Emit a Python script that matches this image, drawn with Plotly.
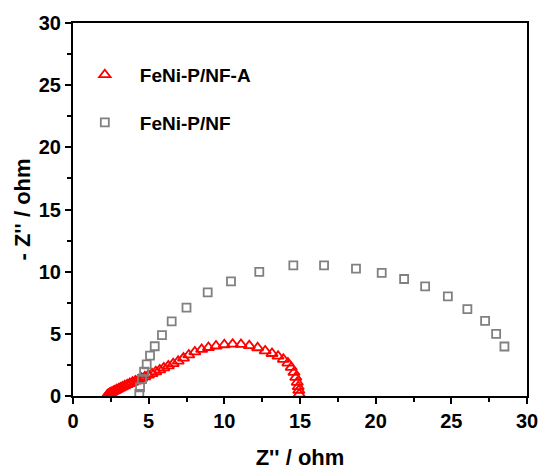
import plotly.graph_objects as go

# FeNi-P/NF-A (red triangles)
a_x = [2.25, 2.3, 2.35, 2.42, 2.5, 2.58, 2.67, 2.77, 2.88, 3.0, 3.13, 3.27, 3.42, 3.58, 3.75,
       3.93, 4.12, 4.32, 4.53, 4.75, 4.98, 5.22, 5.47, 5.73, 6.0, 6.3, 6.62, 6.95, 7.3, 7.65,
       8.05, 8.5, 8.95, 9.45, 10.0, 10.55, 11.1, 11.65, 12.2, 12.7, 13.15, 13.55, 13.9, 14.2,
       14.42, 14.6, 14.72, 14.82, 14.88, 14.92, 14.95]
a_y = [0.05, 0.1, 0.15, 0.2, 0.26, 0.31, 0.37, 0.43, 0.5, 0.57, 0.65, 0.73, 0.82, 0.91, 1.0,
       1.1, 1.2, 1.31, 1.42, 1.54, 1.68, 1.8, 1.95, 2.1, 2.26, 2.42, 2.6, 2.8, 3.05, 3.3,
       3.55, 3.75, 3.9, 4.02, 4.12, 4.17, 4.15, 4.05, 3.88, 3.63, 3.42, 3.2, 2.95, 2.65,
       2.3, 1.9, 1.5, 1.1, 0.75, 0.45, 0.15]

# FeNi-P/NF (grey squares)
b_x = [4.38, 4.43, 4.56, 4.7, 4.87, 5.09, 5.4, 5.88, 6.52, 7.5, 8.9, 10.44, 12.31, 14.56,
       16.59, 18.7, 20.4, 21.88, 23.27, 24.77, 26.06, 27.23, 27.96, 28.51]
b_y = [0.16, 0.7, 1.35, 1.95, 2.55, 3.25, 4.0, 4.9, 6.0, 7.1, 8.33, 9.22, 9.98, 10.51,
       10.51, 10.24, 9.9, 9.41, 8.81, 8.01, 6.99, 6.05, 5.0, 3.98]

names = ["FeNi-P/NF-A", "FeNi-P/NF"]
tick_vals = [0, 5, 10, 15, 20, 25, 30]

fig = go.Figure()
fig.add_trace(go.Scatter(
    x=a_x, y=a_y, mode="markers", name=names[0], legendgroup="a",
    marker=dict(symbol="triangle-up-open", size=10, color="#ff0000",
                line=dict(width=1.8, color="#ff0000"))))
fig.add_trace(go.Scatter(
    x=b_x, y=b_y, mode="markers", name=names[1], legendgroup="b",
    marker=dict(symbol="square-open", size=8, color="#808080",
                line=dict(width=1.8, color="#808080"))))

font_main = "Liberation Sans, Arial, sans-serif"
axis_common = dict(
    range=[0, 30], tickvals=tick_vals, ticktext=[str(v) for v in tick_vals],
    showgrid=False, zeroline=False, showline=True, linecolor="black", linewidth=2,
    mirror=True, ticks="outside", ticklen=6, tickwidth=2, tickcolor="black",
    minor=dict(tickvals=[2.5, 7.5, 12.5, 17.5, 22.5, 27.5], ticks="outside",
               ticklen=4, tickwidth=1.5, tickcolor="black"),
    tickfont=dict(family=font_main, size=20, color="black", weight="bold"),
    automargin=False,
)

fig.update_layout(
    width=541, height=470,
    margin=dict(l=73, r=14, t=23, b=74),
    paper_bgcolor="white", plot_bgcolor="white",
    showlegend=True,
    legend=dict(x=-0.007, y=0.912, xanchor="left", yanchor="top",
                traceorder="grouped", tracegroupgap=20, itemwidth=60,
                bgcolor="rgba(0,0,0,0)",
                font=dict(family=font_main, size=19, color="black", weight="bold")),
    xaxis=dict(axis_common,
               title=dict(text="Z'' / ohm", standoff=24,
                          font=dict(family=font_main, size=22, color="black", weight="bold"))),
    yaxis=dict(axis_common,
               title=dict(text="- Z'' / ohm", standoff=2,
                          font=dict(family=font_main, size=22, color="black", weight="bold"))),
)

fig.write_html("out.html")
